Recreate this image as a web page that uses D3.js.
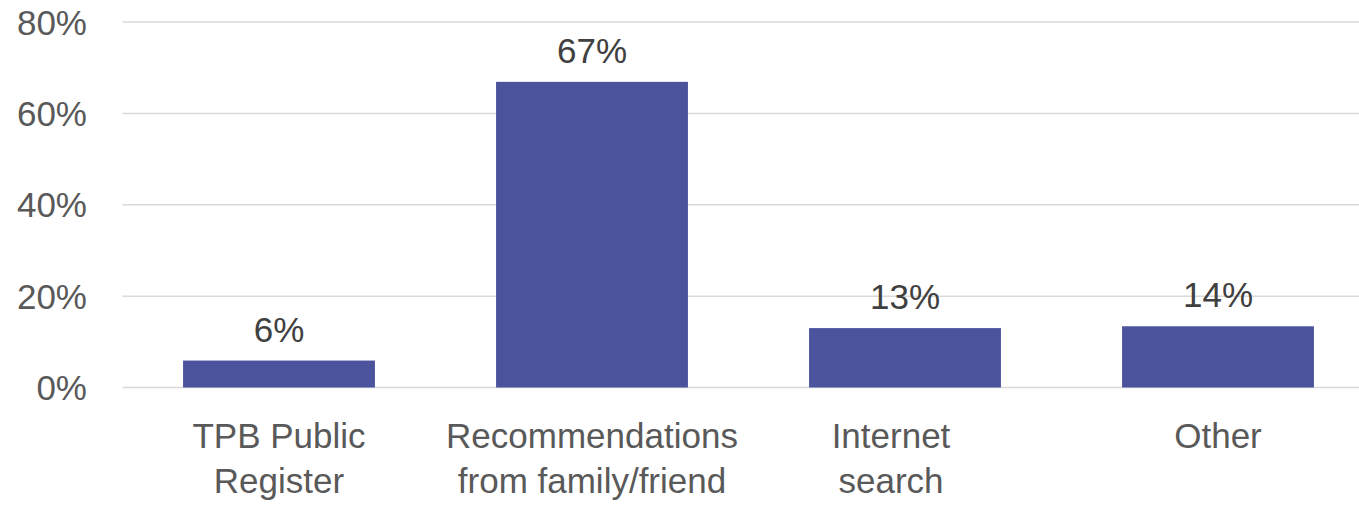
<!DOCTYPE html>
<html>
<head>
<meta charset="utf-8">
<script src="https://cdn.jsdelivr.net/npm/d3@7"></script>
<style>
  body { margin: 0; background: #fff; }
  svg { display: block; font-family: "Liberation Sans", Arial, sans-serif; }
</style>
</head>
<body>
<div id="chart"></div>
<script>
// data
var categories = [
    ["TPB Public", "Register"],
    ["Recommendations", "from family/friend"],
    ["Internet", "search"],
    ["Other"]
];
var values = [0.059, 0.669, 0.130, 0.134];
var valueLabels = ["6%", "67%", "13%", "14%"];
var yTicks = [0, 0.2, 0.4, 0.6, 0.8];

var width = 1359,
    height = 505;

// excel wraps "Internet search" with a trailing space, so it sits a bit left
var labelShift = function(i) { return i === 2 ? -14 : 0; };

var svg = d3.select("#chart").append("svg")
    .attr("width", width)
    .attr("height", height);

var x = d3.scaleBand()
    .domain(d3.range(categories.length))
    .range([122.5, 1374.5])
    .paddingInner(0.387)
    .paddingOuter(0.1935);

var y = d3.scaleLinear()
    .domain([0, 0.8])
    .range([387.5, 22]);

// gridlines
svg.append("g")
    .selectAll("line")
    .data(yTicks)
    .enter().append("line")
    .attr("x1", 122.5)
    .attr("x2", width)
    .attr("y1", d => y(d))
    .attr("y2", d => y(d))
    .attr("stroke", "#d9d9d9")
    .attr("stroke-width", 1.5);

// y axis labels
svg.append("g")
    .selectAll("text")
    .data(yTicks)
    .enter().append("text")
    .attr("x", 87)
    .attr("y", d => y(d))
    .attr("dy", "0.36em")
    .attr("text-anchor", "end")
    .attr("font-size", 35)
    .attr("fill", "#595959")
    .text(d => d3.format(".0%")(d));

// bars
svg.append("g")
    .selectAll("rect")
    .data(values)
    .enter().append("rect")
    .attr("x", (d, i) => x(i))
    .attr("width", x.bandwidth())
    .attr("y", d => y(d))
    .attr("height", d => y(0) - y(d))
    .attr("fill", "#4a539c");

// value labels
svg.append("g")
    .selectAll("text")
    .data(values)
    .enter().append("text")
    .attr("x", (d, i) => x(i) + x.bandwidth() / 2)
    .attr("y", d => y(d) - 19)
    .attr("text-anchor", "middle")
    .attr("font-size", 35)
    .attr("fill", "#404040")
    .text((d, i) => valueLabels[i]);

// category labels
var cat = svg.append("g")
    .selectAll("text")
    .data(categories)
    .enter().append("text")
    .attr("x", (d, i) => x(i) + x.bandwidth() / 2 + labelShift(i))
    .attr("y", 448)
    .attr("text-anchor", "middle")
    .attr("font-size", 35)
    .attr("fill", "#595959");
cat.selectAll("tspan")
    .data(d => d)
    .enter().append("tspan")
    .attr("x", function() { return d3.select(this.parentNode).attr("x"); })
    .attr("dy", (d, i) => i === 0 ? 0 : 45)
    .text(d => d);
</script>
</body>
</html>
